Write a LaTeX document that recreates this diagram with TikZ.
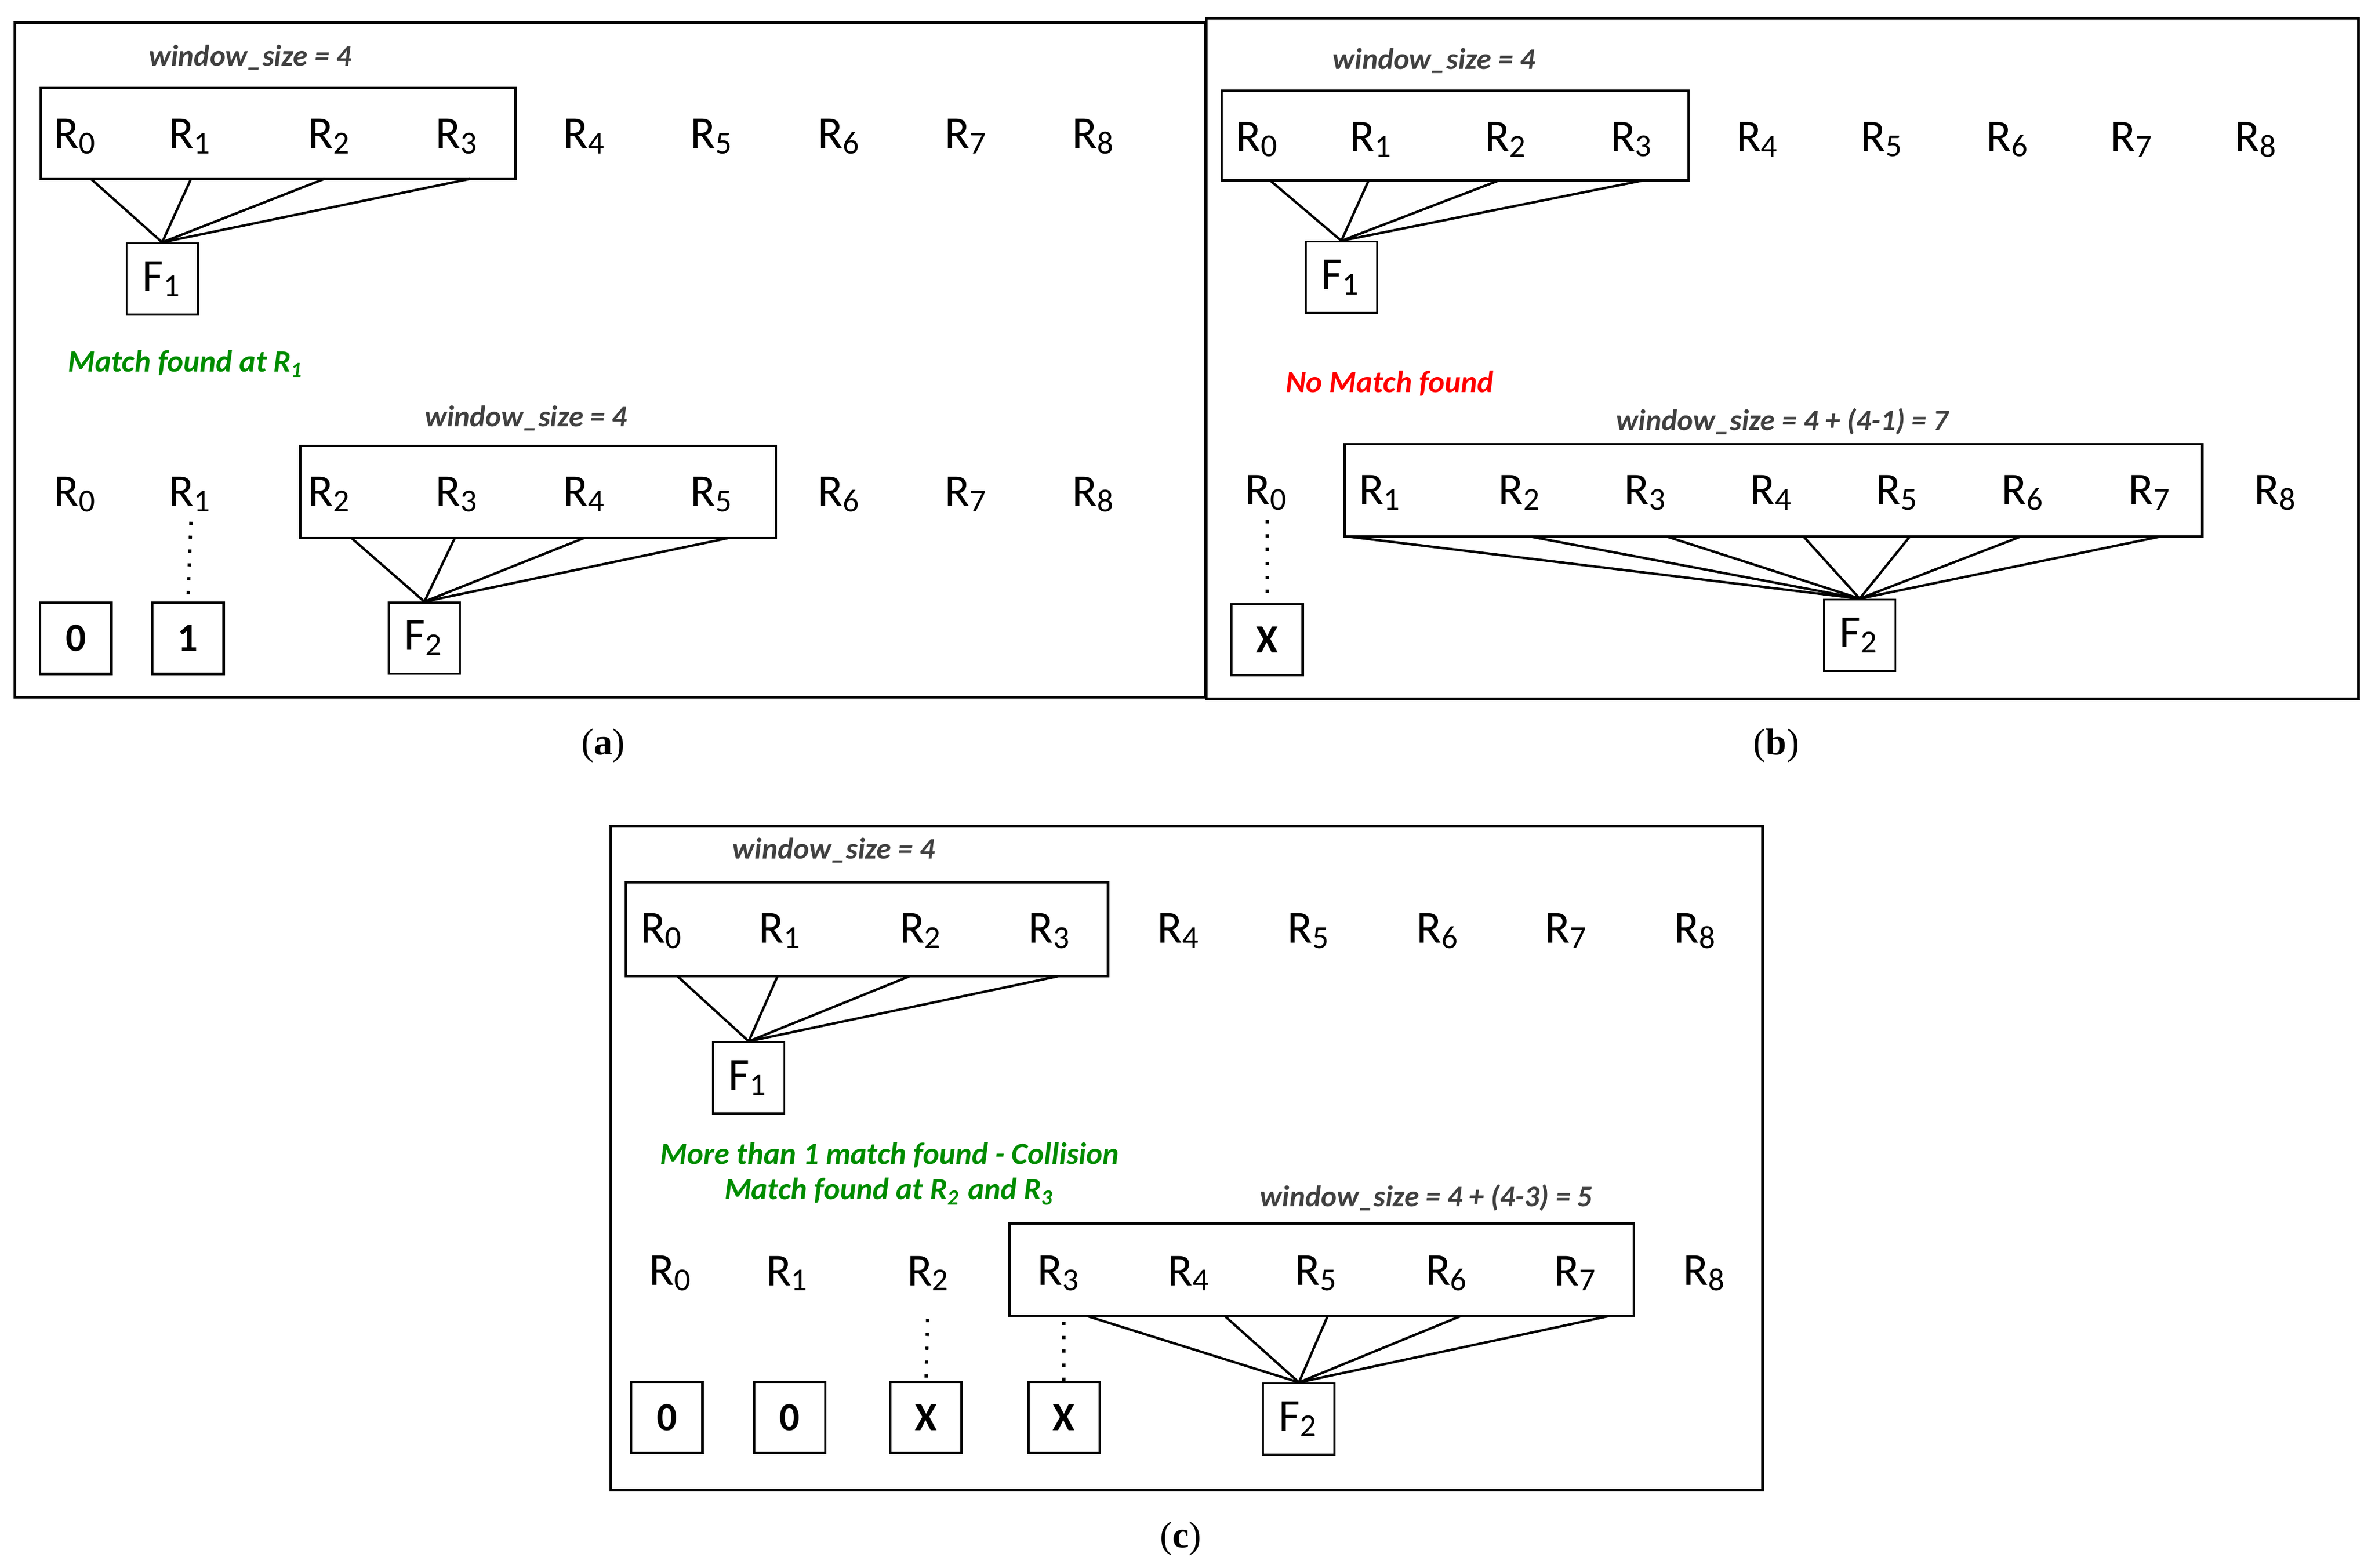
\documentclass[tikz,border=0pt]{standalone}
\usepackage{fontspec}
\setmainfont{Carlito}
\newfontfamily\capfont{Liberation Serif}
\begin{document}
\begin{tikzpicture}[x=0.01cm,y=-0.01cm,
  rl/.style={font=\fontsize{8.6}{10}\selectfont,inner sep=0pt},
  fbox/.style={draw,line width=0.35pt,minimum width=0.47cm,minimum height=0.47cm,inner sep=0pt,font=\fontsize{8.6}{10}\selectfont},
  vbox/.style={draw,line width=0.45pt,minimum width=0.47cm,minimum height=0.47cm,inner sep=0pt,font=\fontsize{7.5}{9}\selectfont\bfseries},
  wl/.style={font=\fontsize{5.6}{7}\selectfont\bfseries\itshape,text=black!75,inner sep=0pt},
  gl/.style={font=\fontsize{5.8}{7}\selectfont\bfseries\itshape,text=green!55!black,inner sep=0pt},
  win/.style={draw,line width=0.45pt},
  ln/.style={line width=0.45pt},
  dt/.style={dotted,line width=0.6pt},
  captxt/.style={font=\capfont\fontsize{7}{8}\selectfont,inner sep=0pt}]
\useasboundingbox (0,0) rectangle (1567,1034);
% panel frames
\draw[line width=0.5pt] (10,15) rectangle (795,460);
\draw[line width=0.5pt] (796,12) rectangle (1556,461);
\draw[line width=0.5pt] (403,545) rectangle (1163,983);
\node[captxt] (ca) at (398,492) {(\textbf{a})};
\node[captxt] (cb) at (1172,492) {(\textbf{b})};
\node[captxt] (cc) at (779,1015) {(\textbf{c})};
% ---------- panel a
\node[wl] (aw1) at (165,38) {window\_size = 4};
\foreach \x [count=\i from 0] in {50,126,218,302,386,470,554,638,722}
  \node[rl] (aT\i) at (\x,90) {R\textsubscript{\i}};
\draw[win] (27,58) rectangle (340,118);
\node[fbox] (aF1) at (107,184) {F\textsubscript{1}};
\foreach \x in {60,126,214,310} \draw[ln] (\x,118) -- (aF1.north);
\node[gl] (am) at (123,240) {Match found at R\textsubscript{1}};
\node[wl] (aw2) at (347,276) {window\_size = 4};
\foreach \x [count=\i from 0] in {50,126,218,302,386,470,554,638,722}
  \node[rl] (aB\i) at (\x,326) {R\textsubscript{\i}};
\draw[win] (198,294) rectangle (512,355);
\node[fbox] (aF2) at (280,421) {F\textsubscript{2}};
\foreach \x in {232,300,385,480} \draw[ln] (\x,355) -- (aF2.north);
\node[vbox] (a0) at (50,421) {0};
\node[vbox] (a1) at (124,421) {1};
\draw[dt] (aB1.south) ++(0,6) -- (a1.north);
% ---------- panel b
\node[wl] (bw1) at (946,40) {window\_size = 4};
\foreach \x [count=\i from 0] in {830,905,994,1077,1160,1242,1325,1407,1489}
  \node[rl] (bT\i) at (\x,92) {R\textsubscript{\i}};
\draw[win] (806,60) rectangle (1114,119);
\node[fbox] (bF1) at (885,183) {F\textsubscript{1}};
\foreach \x in {838,903,989,1084} \draw[ln] (\x,119) -- (bF1.north);
\node[font=\fontsize{5.8}{7}\selectfont\bfseries\itshape,text=red,inner sep=0pt] (bm) at (917,253) {No Match found};
\node[wl] (bw2) at (1176,278) {window\_size = 4 + (4-1) = 7};
\foreach \x [count=\i from 0] in {836,911,1003,1086,1169,1252,1335,1419,1502}
  \node[rl] (bB\i) at (\x,325) {R\textsubscript{\i}};
\draw[win] (887,293) rectangle (1453,354);
\node[fbox] (bF2) at (1227,419) {F\textsubscript{2}};
\foreach \x in {890,1010,1100,1190,1260,1333,1425} \draw[ln] (\x,354) -- (bF2.north);
\node[vbox] (bX) at (836,422) {X};
\draw[dt] (bB0.south) ++(0,6) -- (bX.north);
% ---------- panel c
\node[wl] (cw1) at (550,561) {window\_size = 4};
\foreach \x [count=\i from 0] in {437,515,608,693,778,864,949,1034,1119}
  \node[rl] (cT\i) at (\x,614) {R\textsubscript{\i}};
\draw[win] (413,582) rectangle (731,644);
\node[fbox] (cF1) at (494,711) {F\textsubscript{1}};
\foreach \x in {447,513,600,698} \draw[ln] (\x,644) -- (cF1.north);
\node[gl] (cm1) at (587,762) {More than 1 match found - Collision};
\node[gl] (cm2) at (587,786) {Match found at R\textsubscript{2} and R\textsubscript{3}};
\node[wl] (cw2) at (941,790) {window\_size = 4 + (4-3) = 5};
\foreach \x [count=\i from 0] in {443,520,613,699,785,869,955,1040,1125}
  \node[rl] (cB\i) at (\x,840) {R\textsubscript{\i}};
\draw[win] (666,807) rectangle (1078,868);
\node[fbox] (cF2) at (857,936) {F\textsubscript{2}};
\foreach \x in {717,808,876,964,1062} \draw[ln] (\x,868) -- (cF2.north);
\node[vbox] (c0) at (440,935) {0};
\node[vbox] (c1) at (521,935) {0};
\node[vbox] (c2) at (611,935) {X};
\node[vbox] (c3) at (702,935) {X};
\draw[dt] (612,870) -- (c2.north);
\draw[dt] (702,872) -- (c3.north);
\end{tikzpicture}
\end{document}
